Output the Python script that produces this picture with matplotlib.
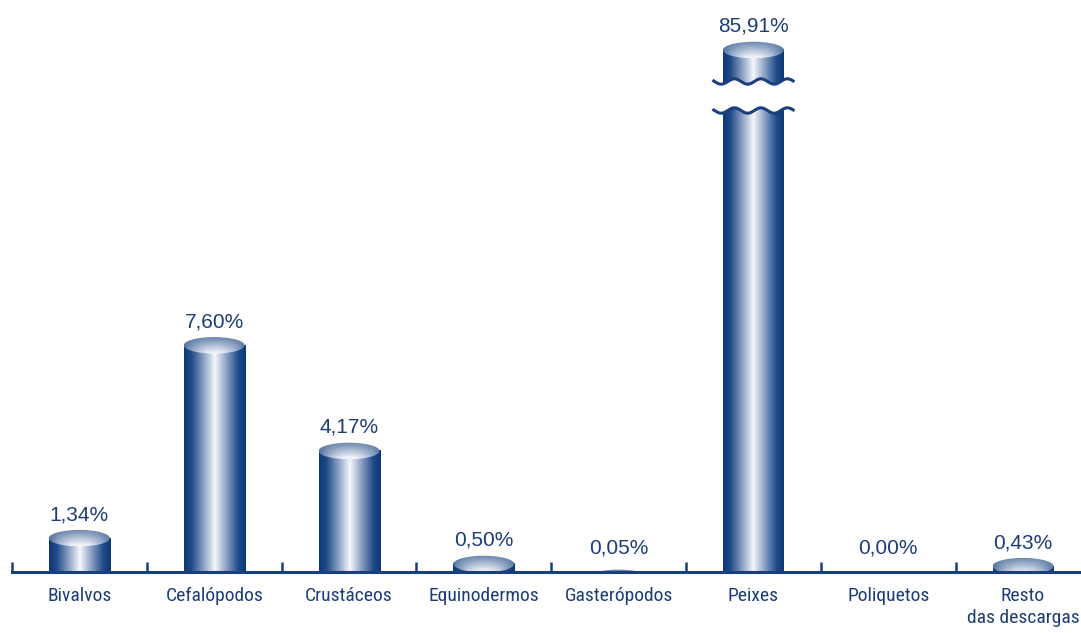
import numpy as np
import matplotlib
matplotlib.use('Agg')
import matplotlib.pyplot as plt
from matplotlib.patches import Ellipse, Polygon
from matplotlib.colors import LinearSegmentedColormap, to_rgb

categories = ['Bivalvos', 'Cefalópodos', 'Crustáceos', 'Equinodermos',
              'Gasterópodos', 'Peixes', 'Poliquetos', 'Resto\ndas descargas']
values = [1.34, 7.60, 4.17, 0.50, 0.05, 85.91, 0.00, 0.43]
value_labels = ['1,34%', '7,60%', '4,17%', '0,50%', '0,05%', '85,91%', '0,00%', '0,43%']

NAVY = '#1b3f7d'
TXT = '#1c3d78'
W, H = 1081, 633
PX = 30.8          # pixels per percentage point
Y0 = 0.24          # value at the axis line
AXIS_PX = 572
BOT_TOP_PX = 100
TOP_H_PX = 95
XPX = 134.8        # pixels per category
BW = 61 / XPX      # bar width
EH = 16.5 / PX     # ellipse height (data units)

fig = plt.figure(figsize=(W / 100, H / 100), dpi=100)
ax = fig.add_axes([12 / W, (H - AXIS_PX) / H, (W - 12) / W, (AXIS_PX - BOT_TOP_PX) / H])
ax_top = fig.add_axes([12 / W, (H - TOP_H_PX) / H, (W - 12) / W, TOP_H_PX / H])
xlim = (-0.5, -0.5 + (W - 12) / XPX)
for a in (ax, ax_top):
    a.set_facecolor('none')
    a.set_xlim(*xlim)
    a.set_autoscale_on(False)
ax.set_ylim(Y0, Y0 + (AXIS_PX - BOT_TOP_PX) / PX)
peak = max(values)
top_lo = peak - 45 / PX
ax_top.set_ylim(top_lo, top_lo + TOP_H_PX / PX)

body_cmap = LinearSegmentedColormap.from_list('cyl', [
    (0.0, '#0c3875'), (0.12, '#1f4a88'), (0.32, '#8ea3c6'),
    (0.5, '#f5f7fc'), (0.68, '#8ea3c6'), (0.88, '#1f4a88'), (1.0, '#0c3875')])

navy_rgb = np.array(to_rgb('#0f3b78'))
white_rgb = np.array(to_rgb('#f0f3fa'))
u = np.linspace(0, 1, 128)
t = np.linspace(0, 1, 32)
U, T = np.meshgrid(u, t)
m = np.clip(0.30 + 0.65 * (1 - T) * (1 - (2 * U - 1) ** 2) + 0.1 * (1 - (2 * U - 1) ** 2), 0, 1)
ell_img = navy_rgb[None, None, :] + m[..., None] * (white_rgb - navy_rgb)[None, None, :]


def draw_body(a, x, y0, y1):
    grad = np.linspace(0, 1, 256)[None, :].repeat(2, axis=0)
    a.imshow(grad, cmap=body_cmap, extent=[x - BW / 2, x + BW / 2, y0, y1],
             origin='lower', aspect='auto', interpolation='bilinear', zorder=2)


def draw_top(a, x, yc):
    im = a.imshow(ell_img, extent=[x - BW / 2, x + BW / 2, yc - EH / 2, yc + EH / 2],
                  origin='lower', aspect='auto', interpolation='bilinear', zorder=3)
    clip = Ellipse((x, yc), BW, EH, transform=a.transData)
    im.set_clip_path(clip)


def wave(a, x, ybase, fill_to):
    xs = np.linspace(x - 82 / XPX / 2, x + 82 / XPX / 2, 300)
    period = 26.5 / XPX
    amp = 2.7 / PX
    ys = ybase + amp * np.cos(2 * np.pi * (xs - (x - 0.141)) / period)
    poly = np.column_stack([np.r_[xs, xs[-1], xs[0]], np.r_[ys, fill_to, fill_to]])
    a.add_patch(Polygon(poly, closed=True, facecolor='white', edgecolor='none', zorder=4))
    a.plot(xs, ys, color=NAVY, lw=2.2, solid_capstyle='butt', zorder=5)


low_top = ax.get_ylim()[1]
for i, (v, lab) in enumerate(zip(values, value_labels)):
    if v <= 0:
        ax.annotate(lab, xy=(i, Y0), xytext=(0, 19), textcoords='offset pixels',
                    ha='center', va='baseline', fontsize=15, color=TXT,
                    family='Liberation Sans')
        continue
    if v <= low_top:
        draw_body(ax, i, 0, v)
        draw_top(ax, i, v)
        ax.annotate(lab, xy=(i, max(v, Y0)), xytext=(0, 18), textcoords='offset pixels',
                    ha='center', va='baseline', fontsize=15, color=TXT,
                    family='Liberation Sans', annotation_clip=False)
    else:
        draw_body(ax, i, 0, low_top + 1)
        wave(ax, i, Y0 + (AXIS_PX - 110.5) / PX, low_top + 1)
        draw_body(ax_top, i, top_lo - 1, v)
        draw_top(ax_top, i, v)
        wave(ax_top, i, top_lo + (TOP_H_PX - 81.5) / PX, top_lo - 1)
        ax_top.annotate(lab, xy=(i, v), xytext=(0, 18), textcoords='offset pixels',
                        ha='center', va='baseline', fontsize=15, color=TXT,
                        family='Liberation Sans', annotation_clip=False)

for s in ('top', 'left', 'right'):
    ax.spines[s].set_visible(False)
ax.spines['bottom'].set_color(NAVY)
ax.spines['bottom'].set_linewidth(2.2)
ax.spines['bottom'].set_zorder(10)
ax.set_xticks(np.arange(-0.5, len(categories) - 0.5, 1.0))
ax.set_yticks([])
ax.tick_params(axis='x', direction='in', length=7.5, width=1.8, color=NAVY,
               labelbottom=False)
for a in (ax, ax_top):
    a.set_xlim(*xlim)
ax.set_ylim(Y0, low_top)
ax_top.set_ylim(top_lo, top_lo + TOP_H_PX / PX)

for i, cat in enumerate(categories):
    ax.annotate(cat, xy=(i, 0), xycoords=('data', 'axes fraction'), xytext=(0, -15),
                textcoords='offset pixels', ha='center', va='top', fontsize=14,
                color=TXT, family=['Roboto Condensed', 'Liberation Sans'],
                linespacing=1.28, annotation_clip=False)

ax_top.axis('off')
fig.savefig('out.png', dpi=100)
